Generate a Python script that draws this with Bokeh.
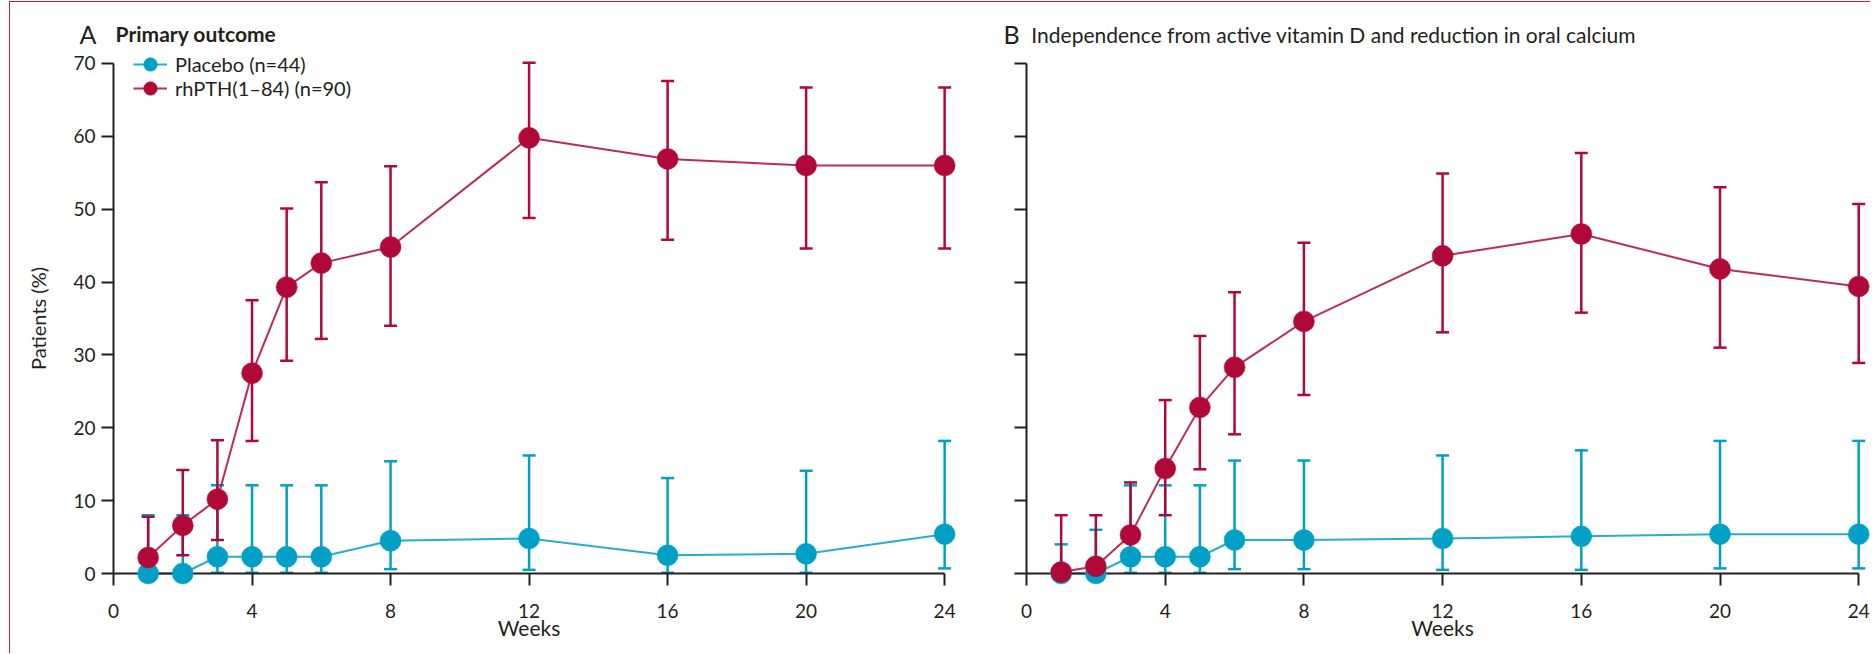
from bokeh.plotting import figure
from bokeh.models import (ColumnDataSource, Whisker, TeeHead, FixedTicker, Label,
                          Legend, LegendItem, Range1d, Row)
from bokeh.embed import file_html
from bokeh.resources import INLINE

# ---------------- data ----------------
weeks = [1, 2, 3, 4, 5, 6, 8, 12, 16, 20, 24]

# Panel A - primary outcome
a_placebo = [0.0, 0.0, 2.3, 2.3, 2.3, 2.3, 4.5, 4.8, 2.5, 2.7, 5.4]
a_placebo_lo = [0.0, 0.0, 0.1, 0.1, 0.1, 0.1, 0.6, 0.5, 0.1, 0.1, 0.7]
a_placebo_hi = [8.0, 8.0, 12.1, 12.1, 12.1, 12.1, 15.4, 16.2, 13.1, 14.1, 18.2]
a_rhpth = [2.2, 6.6, 10.2, 27.5, 39.3, 42.6, 44.8, 59.8, 56.9, 56.0, 56.0]
a_rhpth_lo = [0.3, 2.5, 4.6, 18.2, 29.2, 32.2, 34.0, 48.8, 45.8, 44.6, 44.6]
a_rhpth_hi = [7.8, 14.2, 18.3, 37.5, 50.1, 53.7, 55.9, 70.1, 67.6, 66.7, 66.7]

# Panel B - independence from active vitamin D and reduction in oral calcium
b_placebo = [0.0, 0.0, 2.3, 2.3, 2.3, 4.6, 4.6, 4.8, 5.1, 5.4, 5.4]
b_placebo_lo = [0.0, 0.0, 0.1, 0.1, 0.1, 0.6, 0.6, 0.5, 0.5, 0.7, 0.7]
b_placebo_hi = [4.0, 6.0, 12.1, 12.1, 12.1, 15.5, 15.5, 16.2, 16.9, 18.2, 18.2]
b_rhpth = [0.2, 1.0, 5.3, 14.4, 22.8, 28.3, 34.6, 43.6, 46.6, 41.8, 39.4]
b_rhpth_lo = [0.0, 0.0, 1.8, 8.0, 14.3, 19.1, 24.5, 33.1, 35.8, 31.0, 28.9]
b_rhpth_hi = [8.0, 8.0, 12.5, 23.8, 32.6, 38.6, 45.4, 54.9, 57.7, 53.0, 50.7]

x_ticks = [0, 4, 8, 12, 16, 20, 24]
y_ticks = [0, 10, 20, 30, 40, 50, 60, 70]

series_labels = ["Placebo (n=44)", "rhPTH(1\u201384) (n=90)"]
panel_letters = ["A", "B"]
panel_titles = ["Primary outcome",
                "Independence from active vitamin D and reduction in oral calcium"]
x_label = "Weeks"
y_label = "Patients (%)"

# ---------------- style ----------------
CYAN = "#00a0c6"
RED = "#b00838"
INK = "#231f20"
FONT = "Lato"
Y_BOTTOM, Y_TOP = -10.98, 78.37
FIG_H = 651


def make_panel(width, x_start, x_end, placebo, p_lo, p_hi, rh, r_lo, r_hi,
               letter, title, letter_x, title_x, show_y_labels, legend):
    p = figure(width=width, height=FIG_H, output_backend="svg", toolbar_location=None,
               x_range=Range1d(x_start, x_end), y_range=Range1d(Y_BOTTOM, Y_TOP),
               min_border_left=0, min_border_right=0,
               min_border_top=0, min_border_bottom=0)
    p.outline_line_color = None
    p.grid.visible = False
    p.background_fill_color = "white"
    p.border_fill_color = "white"

    for ax in (p.xaxis[0], p.yaxis[0]):
        ax.fixed_location = 0
        ax.axis_line_width = 2
        ax.axis_line_color = INK
        ax.major_tick_line_width = 2
        ax.major_tick_line_color = INK
        ax.major_tick_out = 12
        ax.major_tick_in = 0
        ax.minor_tick_line_color = None
        ax.major_label_text_font = FONT
        ax.major_label_text_font_size = "19px"
        ax.major_label_text_color = INK
        ax.axis_label_text_font = FONT
        ax.axis_label_text_font_size = "21px"
        ax.axis_label_text_font_style = "normal"
        ax.axis_label_text_color = INK

    xa = p.xaxis[0]
    xa.ticker = FixedTicker(ticks=x_ticks)
    xa.bounds = (0, 24)
    xa.major_label_standoff = 18
    xa.axis_label = x_label
    xa.axis_label_standoff = -6

    ya = p.yaxis[0]
    ya.ticker = FixedTicker(ticks=y_ticks)
    ya.bounds = (0, 70)
    if show_y_labels:
        ya.major_label_standoff = 6
        ya.axis_label = y_label
        ya.axis_label_text_font_size = "20px"
        ya.axis_label_standoff = 20
    else:
        ya.major_label_overrides = {t: "" for t in y_ticks}

    src_p = ColumnDataSource(dict(x=weeks, y=placebo, lo=p_lo, hi=p_hi))
    src_r = ColumnDataSource(dict(x=weeks, y=rh, lo=r_lo, hi=r_hi))

    for src, col in ((src_p, CYAN), (src_r, RED)):
        w = Whisker(source=src, base="x", upper="hi", lower="lo",
                    line_color=col, line_width=2.5,
                    upper_head=TeeHead(size=13, line_color=col, line_width=2.5),
                    lower_head=TeeHead(size=13, line_color=col, line_width=2.5))
        p.add_layout(w)

    rends = []
    for src, col in ((src_p, CYAN), (src_r, RED)):
        ln = p.line("x", "y", source=src, line_color=col, line_width=2, line_alpha=0.85)
        sc = p.scatter("x", "y", source=src, size=21, fill_color=col, line_color=col,
                       line_width=0.5, level="overlay")
        rends.append((ln, sc))

    # panel titles
    p.add_layout(Label(x=letter_x, y=74.0, text=letter, text_font=FONT,
                       text_font_size="25px", text_color=INK,
                       text_baseline="alphabetic", text_align="left"))
    if show_y_labels:
        p.add_layout(Label(x=title_x, y=74.1, text=title, text_font=FONT,
                           text_font_size="21px", text_font_style="bold", text_color=INK,
                           text_baseline="alphabetic", text_align="left"))
    else:
        p.add_layout(Label(x=title_x, y=74.0, text=title, text_font=FONT,
                           text_font_size="21px", text_color=INK,
                           text_baseline="alphabetic", text_align="left"))

    if legend:
        for (ln, sc), lab, vy in zip(rends, series_labels, (571, 547)):
            lg = Legend(items=[LegendItem(label=lab, renderers=[ln, sc])],
                        location=(123, vy), glyph_width=34, glyph_height=36,
                        label_height=36, padding=0, margin=0, spacing=0,
                        label_standoff=8, border_line_color=None,
                        background_fill_alpha=0, label_text_font=FONT,
                        label_text_font_size="20px", label_text_color=INK)
            p.add_layout(lg)
    return p


pA = make_panel(966, -2.975, 24.92, a_placebo, a_placebo_lo, a_placebo_hi,
                a_rhpth, a_rhpth_lo, a_rhpth_hi, panel_letters[0], panel_titles[0],
                -0.98, 0.06, True, True)
pB = make_panel(894, -1.442, 24.34, b_placebo, b_placebo_lo, b_placebo_hi,
                b_rhpth, b_rhpth_lo, b_rhpth_hi, panel_letters[1], panel_titles[1],
                -0.66, 0.14, False, False)

layout = Row(children=[pA, pB],
             styles={"margin-left": "9px", "margin-top": "1px",
                     "border-top": "1px solid #c41e4a",
                     "border-left": "1px solid #c41e4a"})

open("out.html", "w").write(file_html(layout, INLINE))
